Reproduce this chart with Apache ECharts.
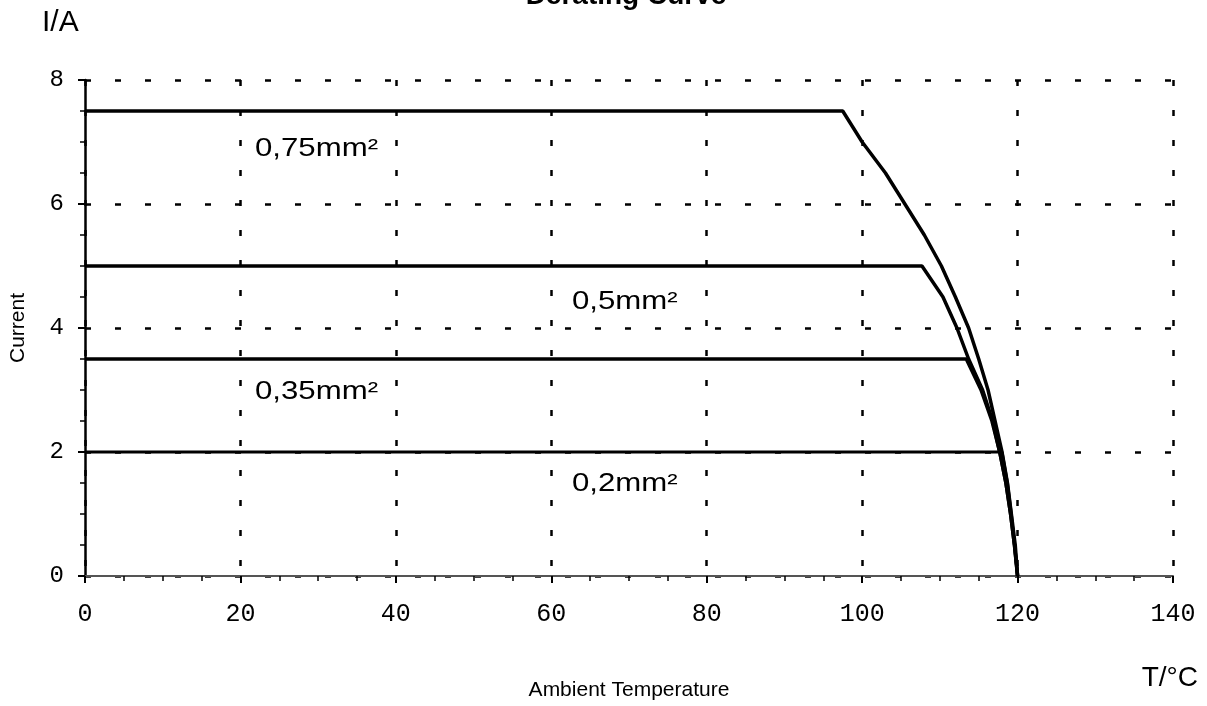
<!DOCTYPE html>
<html>
<head>
<meta charset="utf-8">
<script src="https://cdn.jsdelivr.net/npm/echarts@6/dist/echarts.min.js"></script>
<style>
html,body{margin:0;padding:0;background:#fff;}
#c{width:1207px;height:706px;}
</style>
</head>
<body>
<div id="c"></div>
<script>
// Data
const xTicks = [0, 20, 40, 60, 80, 100, 120, 140];
const yTicks = [0, 2, 4, 6, 8];

const temp075 = [0, 97.5, 100, 103, 105.5, 108, 110.2, 112, 113.7, 115, 116.2, 117.1, 118, 118.7, 119.2, 119.7, 120];
const cur075  = [7.5, 7.5, 7.0, 6.5, 6.0, 5.5, 5.0, 4.5, 4.0, 3.5, 3.0, 2.5, 2.0, 1.5, 1.0, 0.5, 0];

const temp05 = [0, 107.7, 110.4, 112.2, 113.7, 115.5, 116.8, 117.7, 118.5, 119.1, 119.6, 120];
const cur05  = [5.0, 5.0, 4.5, 4.0, 3.5, 3.0, 2.5, 2.0, 1.5, 1.0, 0.5, 0];

const temp035 = [0, 113.4, 115.3, 116.7, 117.7, 118.5, 119.1, 119.6, 120];
const cur035  = [3.5, 3.5, 3.0, 2.5, 2.0, 1.5, 1.0, 0.5, 0];

const temp02 = [0, 118, 118.7, 119.2, 119.6, 120];
const cur02  = [2.0, 2.0, 1.5, 1.0, 0.5, 0];

const seriesNames = ['0,75mm²', '0,5mm²', '0,35mm²', '0,2mm²'];

function pairs(xs, ys) { return xs.map((x, i) => [x, ys[i]]); }

const chart = echarts.init(document.getElementById('c'), null, {renderer: 'canvas'});

const dash = {color: '#000', width: 2.5, type: [6, 24]};
const lineSeries = [
  {name: seriesNames[0], data: pairs(temp075, cur075), width: 3.5},
  {name: seriesNames[1], data: pairs(temp05, cur05), width: 3.5},
  {name: seriesNames[2], data: pairs(temp035, cur035), width: 3.5},
  {name: seriesNames[3], data: pairs(temp02, cur02), width: 3}
].map(s => ({
  type: 'line', name: s.name, data: s.data, showSymbol: false, smooth: false,
  lineStyle: {color: '#000', width: s.width}, z: 5, animation: false
}));

const labelFont = '26px Arial, "Liberation Sans", sans-serif';
function lbl(text, x, y) {
  return {type: 'text', x: x, y: y, scaleX: 1.2, z: 10,
    style: {text: text, font: labelFont, fill: '#000', verticalAlign: 'middle', align: 'left'}};
}

chart.setOption({
  backgroundColor: '#fff',
  animation: false,
  title: {
    text: 'Derating Curve', left: 621, top: -23, textAlign: 'center',
    textStyle: {fontFamily: 'Arial, "Liberation Sans"', fontSize: 28, fontWeight: 'bold', color: '#000'}
  },
  grid: {left: 85, right: 34, top: 80, bottom: 128},
  xAxis: {
    type: 'value', min: xTicks[0], max: xTicks[xTicks.length - 1], interval: 20,
    name: 'Ambient Temperature', nameLocation: 'middle', nameGap: 104,
    nameTextStyle: {fontFamily: 'Arial, "Liberation Sans"', fontSize: 21, color: '#000'},
    axisLine: {lineStyle: {color: '#555', width: 2}},
    axisTick: {show: true, length: 7, lineStyle: {color: '#000', width: 2}},
    minorTick: {show: true, splitNumber: 4, length: 5, lineStyle: {color: '#000', width: 1.5}},
    axisLabel: {margin: 26, fontFamily: '"Liberation Mono", "DejaVu Sans Mono", monospace', fontSize: 25, color: '#000'},
    splitLine: {show: true, lineStyle: dash}
  },
  yAxis: {
    type: 'value', min: yTicks[0], max: yTicks[yTicks.length - 1], interval: 2,
    name: 'Current', nameLocation: 'middle', nameGap: 56, nameRotate: 90,
    nameTextStyle: {fontFamily: 'Arial, "Liberation Sans"', fontSize: 21, color: '#000'},
    axisLine: {show: true, lineStyle: {color: '#000', width: 2.5}},
    axisTick: {show: true, length: 7, lineStyle: {color: '#000', width: 2}},
    minorTick: {show: true, splitNumber: 4, length: 5, lineStyle: {color: '#000', width: 1.5}},
    axisLabel: {margin: 21, fontFamily: '"Liberation Mono", "DejaVu Sans Mono", monospace', fontSize: 24, color: '#000'},
    splitLine: {show: true, lineStyle: dash}
  },
  graphic: [
    {type: 'text', x: 42, y: 23, z: 10, style: {text: 'I/A', font: '30px Arial, "Liberation Sans"', fill: '#000', verticalAlign: 'middle'}},
    {type: 'text', x: 1198, y: 678, z: 10, style: {text: 'T/°C', font: '28px Arial, "Liberation Sans"', fill: '#000', verticalAlign: 'middle', align: 'right'}},
    lbl(seriesNames[0], 255, 149),
    lbl(seriesNames[1], 572, 302),
    lbl(seriesNames[2], 255, 392),
    lbl(seriesNames[3], 572, 484)
  ],
  series: lineSeries
});
</script>
</body>
</html>
